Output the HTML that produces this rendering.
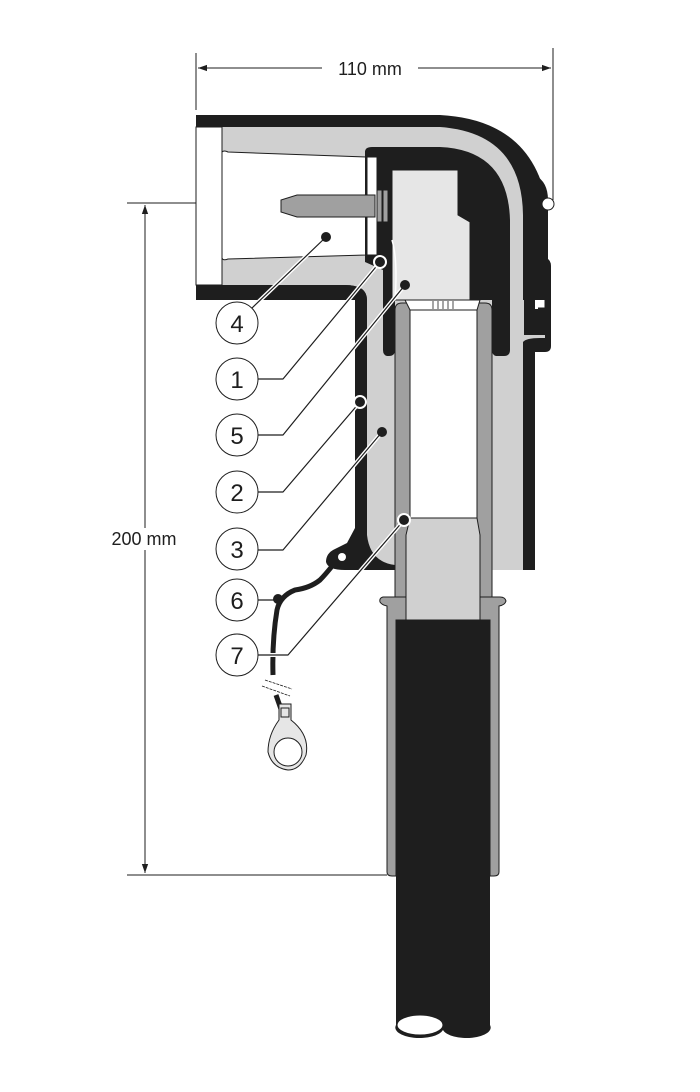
<!DOCTYPE html>
<html><head><style>
html,body{margin:0;padding:0;background:#fff;}
svg{display:block;}
text{font-family:"Liberation Sans",sans-serif;}
</style></head><body>
<svg width="700" height="1092" viewBox="0 0 700 1092" xmlns="http://www.w3.org/2000/svg">
<defs>
<marker id="ar" viewBox="0 0 10 10" refX="10" refY="5" markerWidth="9" markerHeight="9" orient="auto-start-reverse"><path d="M0,1.5 L10,5 L0,8.5 Z" fill="#1e1e1e"/></marker>
</defs>
<!-- dimensions -->
<line x1="196" y1="53" x2="196" y2="110" stroke="#1e1e1e" stroke-width="1"/>
<line x1="553" y1="48" x2="553" y2="200" stroke="#1e1e1e" stroke-width="1"/>
<line x1="198" y1="68" x2="551" y2="68" stroke="#1e1e1e" stroke-width="1" marker-start="url(#ar)" marker-end="url(#ar)"/>
<rect x="322" y="58" width="96" height="20" fill="#fff"/>
<text x="370" y="75" font-size="18" text-anchor="middle" fill="#1e1e1e">110 mm</text>
<line x1="127" y1="203" x2="196" y2="203" stroke="#1e1e1e" stroke-width="1"/>
<line x1="127" y1="875" x2="387" y2="875" stroke="#1e1e1e" stroke-width="1"/>
<line x1="145" y1="205" x2="145" y2="873" stroke="#1e1e1e" stroke-width="1" marker-start="url(#ar)" marker-end="url(#ar)"/>
<rect x="98" y="528" width="92" height="22" fill="#fff"/>
<text x="144" y="545" font-size="18" text-anchor="middle" fill="#1e1e1e">200 mm</text>

<!-- cable -->
<path d="M396,615 L396,1025 A23,10 0 0 0 443,1030 A23,10 0 0 0 490,1025 L490,615 Z" fill="#1e1e1e"/>
<ellipse cx="420" cy="1025" rx="23" ry="10" fill="#fff" stroke="#1e1e1e" stroke-width="1"/>
<!-- tube lower sleeve -->
<path d="M395,597 L383,597 Q379,598 380,602 Q382,605 387,606 L387,872 Q387,876 392,876 L396,876 L396,620 L490,620 L490,876 L494,876 Q499,876 499,872 L499,606 Q505,605 506,601 Q505,597 500,597 L492,597 Z" fill="#a0a0a0" stroke="#1e1e1e" stroke-width="1"/>
<!-- housing vertical body -->
<path d="M355,300 L535,300 L535,570 L345,570 Q328,570 326,562 Q326,553 335,549 L347,543 L355,528 Z" fill="#1e1e1e"/>
<path d="M367,300 L367,535 Q370,562 395,565 L395,570 L523,570 L523,300 Z" fill="#d0d0d0"/>
<circle cx="342" cy="557" r="4" fill="#fff"/>
<!-- right latch -->
<path d="M533,258 L546,258 Q551,260 551,266 L551,346 Q551,352 545,352 L533,352 Z" fill="#1e1e1e"/>
<path d="M523,270 Q526,272 540,272 L545,272 L545,338 L540,338 Q526,338 523,342 Z" fill="#d0d0d0"/>
<path d="M524,275 L545,275 L545,335 L524,335 Z" fill="#1e1e1e"/>
<rect x="537" y="292" width="8" height="16" fill="#fff" stroke="#1e1e1e" stroke-width="1"/>
<rect x="535" y="291" width="3" height="18" fill="#fff"/>
<!-- horizontal arm -->
<path d="M196,115 L440,115 Q535,120 548,210 L548,300 L535,300 L196,300 Z" fill="#1e1e1e"/>
<path d="M196,127 L440,127 Q522,133 523,215 L523,300 L367,300 Q367,285 345,285 L196,285 Z" fill="#d0d0d0"/>
<path d="M196,285 L345,285 Q367,285 367,300 L355,300 Q355,297 345,297 L196,297 Z" fill="#1e1e1e"/>
<rect x="196" y="127" width="26" height="158" fill="#fff" stroke="#1e1e1e" stroke-width="1"/>
<path d="M222,152 Q224,150 228,152 L366,157 L366,255 L228,259 Q223,261 222,258 Z" fill="#fff" stroke="#1e1e1e" stroke-width="1"/>
<!-- inner black block -->
<path d="M365,152 Q365,147 372,147 L440,147 Q508,150 510,220 L510,350 Q510,356 504,356 L496,356 Q492,355 492,350 L492,300 L395,300 L395,350 Q395,356 389,356 L387,356 Q383,355 383,350 L383,270 L365,262 Z" fill="#1e1e1e"/>
<rect x="367" y="157" width="10" height="98" fill="#fff" stroke="#1e1e1e" stroke-width="1"/>
<!-- pin -->
<path d="M297,195 L375,195 L375,217 L297,217 L281,212 L281,200 Z" fill="#a0a0a0" stroke="#1e1e1e" stroke-width="1"/>
<rect x="377" y="190" width="5" height="32" fill="#a0a0a0" stroke="#1e1e1e" stroke-width="1"/>
<rect x="383" y="190" width="5" height="32" fill="#a0a0a0" stroke="#1e1e1e" stroke-width="1"/>
<!-- contact -->
<path d="M392,170 L458,170 L458,215 L470,222 L470,300 L392,300 Z" fill="#e6e6e6" stroke="#1e1e1e" stroke-width="1"/>
<path d="M392,240 Q398,260 395,300" fill="none" stroke="#fff" stroke-width="1.5"/>
<!-- tube -->
<path d="M395,310 Q395,303 402,303 L485,303 Q492,303 492,310 L492,597 L395,597 Z" fill="#a0a0a0" stroke="#1e1e1e" stroke-width="1"/>
<path d="M410,310 L477,310 L477,518 L410,518 Z" fill="#fff" stroke="#1e1e1e" stroke-width="1"/>
<path d="M405,300 L480,300 L477,310 L410,310 Z" fill="#fff" stroke="#1e1e1e" stroke-width="1"/>
<g stroke="#1e1e1e" stroke-width="0.8"><line x1="433" y1="301" x2="433" y2="309"/><line x1="438" y1="301" x2="438" y2="309"/><line x1="443" y1="301" x2="443" y2="309"/><line x1="448" y1="301" x2="448" y2="309"/><line x1="453" y1="301" x2="453" y2="309"/></g>
<path d="M410,518 L477,518 L480,535 L480,620 L406,620 L406,535 Z" fill="#d0d0d0" stroke="#1e1e1e" stroke-width="1"/>
<!-- ground wire -->
<path d="M333,565 Q325,575 320,580 Q310,588 295,590 Q280,596 277,610 Q272,640 273,675" fill="none" stroke="#1e1e1e" stroke-width="5"/>
<path d="M276,695 L282,712" fill="none" stroke="#1e1e1e" stroke-width="5"/>
<line x1="265" y1="680" x2="292" y2="689" stroke="#1e1e1e" stroke-width="0.8" stroke-dasharray="3,1"/>
<line x1="262" y1="686" x2="290" y2="696" stroke="#1e1e1e" stroke-width="0.8" stroke-dasharray="3,1"/>
<path d="M279,704 L291,704 L291,720 Q310,735 306,755 Q300,770 288,770 Q272,768 268,752 Q268,735 279,720 Z" fill="#e6e6e6" stroke="#1e1e1e" stroke-width="1"/>
<circle cx="288" cy="752" r="14" fill="#fff" stroke="#1e1e1e" stroke-width="1"/>
<rect x="281" y="708" width="8" height="9" fill="#e6e6e6" stroke="#1e1e1e" stroke-width="1"/>
<!-- top right small circle -->
<path d="M535,175 Q548,182 548,200 L540,205 Z" fill="#1e1e1e"/>
<circle cx="548" cy="204" r="6" fill="#fff" stroke="#1e1e1e" stroke-width="1"/>
<!-- leaders -->
<g fill="none" stroke-linejoin="round">
<g stroke="#fff" stroke-width="4">
<path d="M252,308 L326,237"/>
<path d="M258,379 L283,379 L380,262"/>
<path d="M258,435 L283,435 L405,285"/>
<path d="M258,492 L283,492 L360,402"/>
<path d="M258,550 L283,550 L382,432"/>
<path d="M258,655 L288,655 L404,520"/>
</g>
<g stroke="#1e1e1e" stroke-width="1.2">
<path d="M252,308 L326,237"/>
<path d="M258,379 L283,379 L380,262"/>
<path d="M258,435 L283,435 L405,285"/>
<path d="M258,492 L283,492 L360,402"/>
<path d="M258,550 L283,550 L382,432"/>
<path d="M258,600 L278,600"/>
<path d="M258,655 L288,655 L404,520"/>
</g>
</g>
<g fill="#1e1e1e">
<circle cx="326" cy="237" r="5"/>
<circle cx="380" cy="262" r="6" stroke="#fff" stroke-width="2"/>
<circle cx="405" cy="285" r="5"/>
<circle cx="360" cy="402" r="6" stroke="#fff" stroke-width="2"/>
<circle cx="382" cy="432" r="5"/>
<circle cx="278" cy="599" r="5"/>
<circle cx="404" cy="520" r="6" stroke="#fff" stroke-width="2"/>
</g>
<g fill="#fff" stroke="#1e1e1e" stroke-width="1">
<circle cx="237" cy="323" r="21"/>
<circle cx="237" cy="379" r="21"/>
<circle cx="237" cy="435" r="21"/>
<circle cx="237" cy="492" r="21"/>
<circle cx="237" cy="549" r="21"/>
<circle cx="237" cy="600" r="21"/>
<circle cx="237" cy="655" r="21"/>
</g>
<g font-size="24" text-anchor="middle" fill="#1e1e1e">
<text x="237" y="332">4</text>
<text x="237" y="388">1</text>
<text x="237" y="444">5</text>
<text x="237" y="501">2</text>
<text x="237" y="558">3</text>
<text x="237" y="609">6</text>
<text x="237" y="664">7</text>
</g>
</svg>
</body></html>
